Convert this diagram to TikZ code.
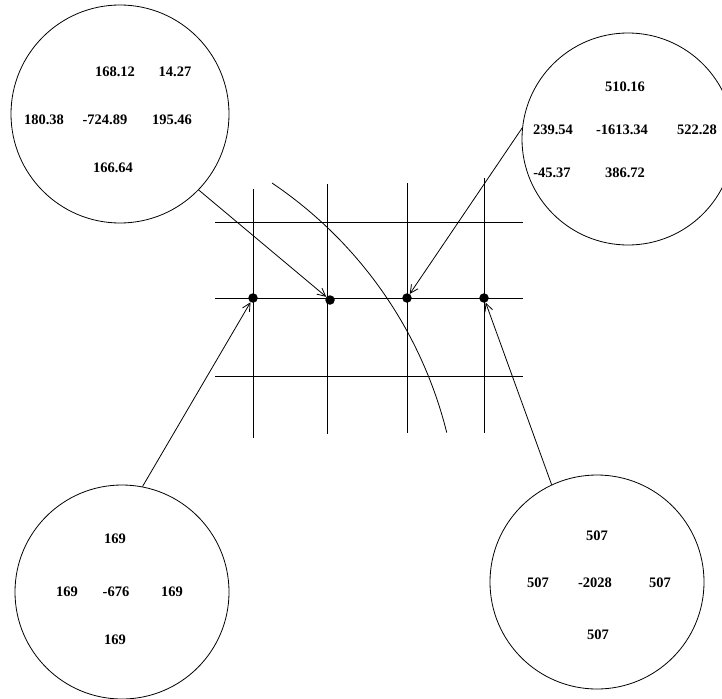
\documentclass[tikz,border=0pt]{standalone}
\usepackage{fontspec}
\setmainfont{Liberation Serif}
\usetikzlibrary{arrows.meta}

\begin{document}
\begin{tikzpicture}[x=1pt,y=-1pt,
    gridline/.style={line width=0.8pt},
    stencil/.style={circle,draw,line width=0.8pt,inner sep=0pt},
    point/.style={circle,fill,inner sep=0pt,minimum size=9.5pt},
    feed/.style={line width=0.8pt,-{Straight Barb[length=8pt,width=8pt]}},
    val/.style={font=\fontsize{14.5}{16}\selectfont\bfseries}]
  \useasboundingbox (0,0) rectangle (722,698);

  % --- the grid ---
  \draw[gridline] (215,222) -- (523,222);
  \draw[gridline] (215,298) -- (523,298);
  \draw[gridline] (215,376) -- (523,376);
  \draw[gridline] (253,189) -- (253,438);
  \draw[gridline] (327,184) -- (327,434);
  \draw[gridline] (407,183) -- (407,433);
  \draw[gridline] (484,178) -- (484,433);

  % --- the boundary arc ---
  \draw[gridline] (272,183) arc[start angle=-56,end angle=-14,radius=425];

  % --- the grid points ---
  \node[point] (p1) at (253,298) {};
  \node[point] (p2) at (330,300) {};
  \node[point] (p3) at (407,298) {};
  \node[point] (p4) at (484,298) {};

  % --- the four stencils ---
  \node[stencil,minimum size=218pt] (tl) at (120,114) {};
  \node[stencil,minimum size=212pt] (tr) at (628,139) {};
  \node[stencil,minimum size=214pt] (bl) at (122,592) {};
  \node[stencil,minimum size=214pt] (br) at (597,582) {};

  % --- stencil weights ---
  \node[val] at (115, 72) {168.12};
  \node[val] at (175, 72) {14.27};
  \node[val] at ( 44,120) {180.38};
  \node[val] at (105,120) {-724.89};
  \node[val] at (172,120) {195.46};
  \node[val] at (113,168) {166.64};

  \node[val] at (625, 87) {510.16};
  \node[val] at (553,130) {239.54};
  \node[val] at (622,130) {-1613.34};
  \node[val] at (697,130) {522.28};
  \node[val] at (552,173) {-45.37};
  \node[val] at (625,173) {386.72};

  \node[val] at (115,539) {169};
  \node[val] at ( 67,592) {169};
  \node[val] at (116,592) {-676};
  \node[val] at (172,592) {169};
  \node[val] at (115,640) {169};

  \node[val] at (597,536) {507};
  \node[val] at (538,583) {507};
  \node[val] at (595,583) {-2028};
  \node[val] at (660,583) {507};
  \node[val] at (598,635) {507};

  % --- stencils to their points ---
  \draw[feed] (tl.-44) -- (p2);
  \draw[feed] (tr.174) -- (p3);
  \draw[feed] (bl.79) -- (p1);
  \draw[feed] (br.115) -- (p4);
\end{tikzpicture}
\end{document}
